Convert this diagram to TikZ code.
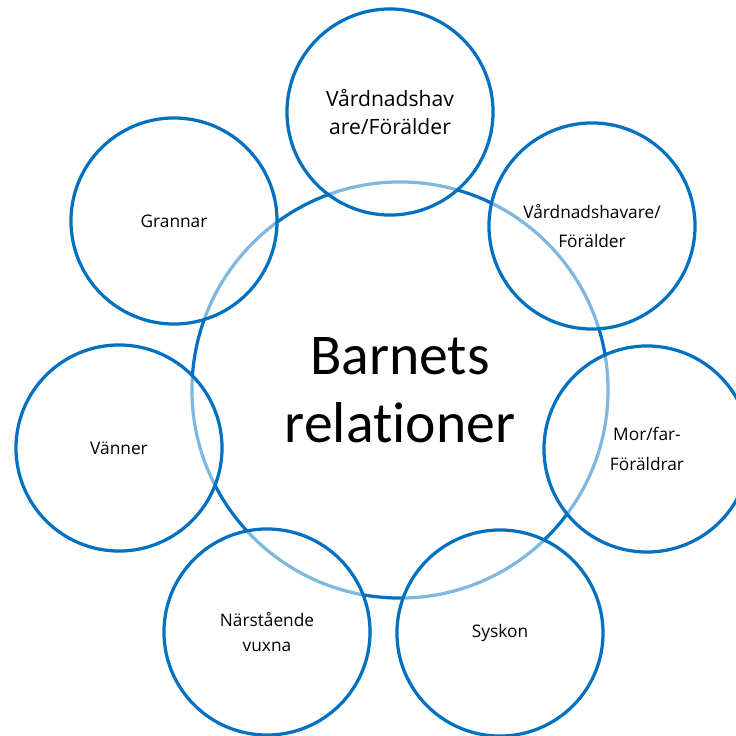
\documentclass[tikz,border=0pt]{standalone}
\usepackage{fontspec}
\setmainfont{Open Sans}
\newfontfamily\calibri[Ligatures=NoCommon]{Carlito}
\usepackage{xcolor}
\usepackage{tikz}
\definecolor{ringblue}{RGB}{0,112,192}

\begin{document}
\begin{tikzpicture}[x=0.025cm, y=-0.025cm,
                    hub/.style={circle, draw=ringblue, line width=2.3pt,
                                minimum size=10.4cm, inner sep=0pt, align=center,
                                font=\calibri\fontsize{41}{48}\selectfont},
                    ring/.style={circle, draw=ringblue, line width=2.3pt,
                                 fill=white, fill opacity=0.5, text opacity=1,
                                 minimum size=5.15cm, inner sep=0pt, align=center,
                                 font=\fontsize{12.3}{21}\selectfont}]
\useasboundingbox (0,0) rectangle (736,736);
\node[hub] (barn) at (400,390) {Barnets\\relationer};
\node[ring, font=\fontsize{15}{20}\selectfont] (vard1) at (390,112) {Vårdnadshav\\are/Förälder};
\node[ring] (vard2) at (592,226) {Vårdnadshavare/\\Förälder};
\node[ring] (granne) at (174,221) {Grannar};
\node[ring] (vanner) at (119,448) {Vänner};
\node[ring] (morfar) at (647,449) {Mor/far-\\Föräldrar};
\node[ring, font=\fontsize{12.3}{18}\selectfont] (vuxna) at (267,632) {Närstående\\vuxna};
\node[ring] (syskon) at (500,633) {Syskon};
\end{tikzpicture}
\end{document}
